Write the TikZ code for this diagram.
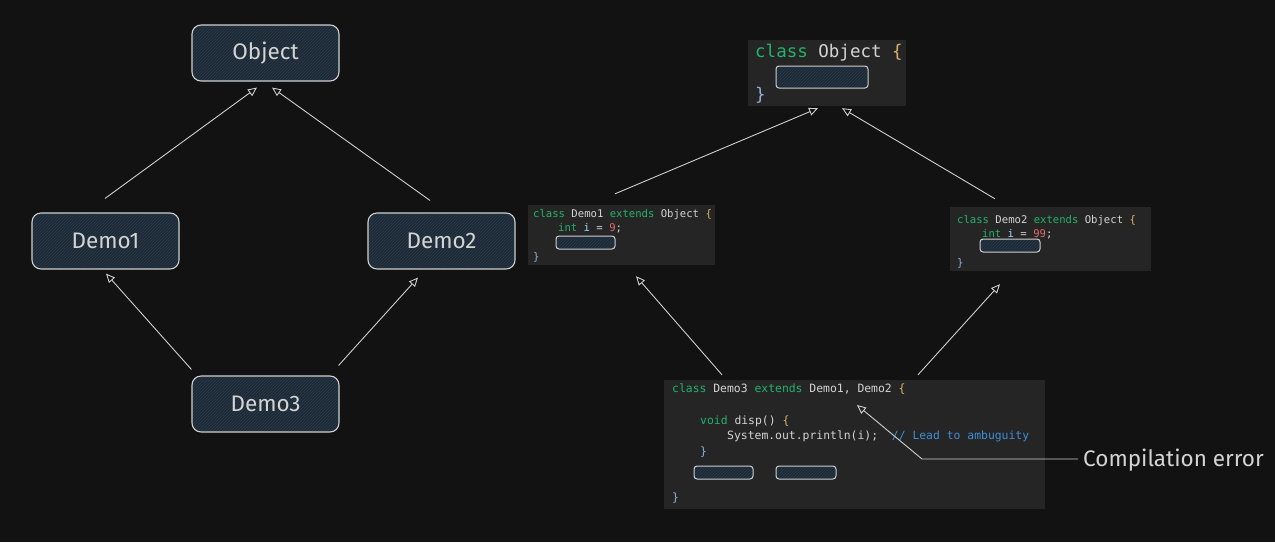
\documentclass[tikz,border=0pt]{standalone}
\usepackage{fontspec}
\setmainfont{Fira Sans}
\setmonofont{DejaVu Sans Mono}
\usetikzlibrary{arrows.meta,patterns,calc}
\definecolor{bg}{HTML}{121212}
\definecolor{codebg}{HTML}{252525}
\definecolor{nodefill}{HTML}{1D2A36}
\definecolor{hatch}{HTML}{2A3C4C}
\definecolor{edge}{HTML}{CFCFCF}
\definecolor{kw}{HTML}{23B26D}
\definecolor{idc}{HTML}{D4D4D4}
\definecolor{brO}{HTML}{D9B36C}
\definecolor{brC}{HTML}{8FB0D8}
\definecolor{varc}{HTML}{9CDCFE}
\definecolor{numc}{HTML}{E06C6C}
\definecolor{cmt}{HTML}{3D8FD9}
\newcommand{\kwd}[1]{\textcolor{kw}{#1}}
\newcommand{\ob}{\textcolor{brO}{\{}}
\newcommand{\cb}{\textcolor{brC}{\}}}
\begin{document}
\begin{tikzpicture}[x=1pt,y=-1pt,
  nbox/.style={draw=edge, line width=1.1pt, rounded corners=9pt,
    preaction={fill=nodefill}, pattern=north east lines, pattern color=hatch,
    minimum width=147pt, minimum height=56pt, inner sep=0pt,
    text=idc, font=\fontsize{22.5}{26}\selectfont},
  cbox/.style={fill=codebg, draw=none, inner sep=0pt},
  ibox/.style={draw=edge, line width=1pt, rounded corners=3pt,
    preaction={fill=nodefill}, pattern=north east lines, pattern color=hatch, inner sep=0pt},
  code/.style={anchor=west, inner sep=0pt, text=idc, text height=1em, text depth=0pt},
  cA/.style={code, font=\ttfamily\fontsize{10.6}{12}\selectfont},
  cB/.style={code, font=\ttfamily\fontsize{11.4}{13}\selectfont},
  cL/.style={code, font=\ttfamily\fontsize{17.5}{20}\selectfont},
  arr/.style={draw=edge, line width=0.9pt, -{Triangle[open, length=9pt, width=8pt]}}
]
\fill[bg] (0,0) rectangle (1275,542);
\useasboundingbox (0,0) rectangle (1275,542);

% left hierarchy
\node[nbox] (obj) at (265.5,53) {Object};
\node[nbox] (d1) at (105.5,241) {Demo1};
\node[nbox] (d2) at (441.5,241) {Demo2};
\node[nbox] (d3) at (265.5,404) {Demo3};

\draw[arr] ($(d1.north)+(-0.5,-14)$) -- ($(obj.south)+(-8.5,6)$);
\draw[arr] ($(d2.north)+(-11.5,-12)$) -- ($(obj.south)+(6.5,6)$);
\draw[arr] ($(d3.north west)+(0,-6)$) -- ($(d1.south)+(0.5,4)$);
\draw[arr] ($(d3.north east)+(-1,-10)$) -- ($(d2.south)+(-23.5,8)$);

% right code boxes
\node[cbox, minimum width=158pt, minimum height=66pt] (cobj) at (827,73) {};
\node[cL] (cobjA) at (755,52) {\kwd{class} Object \ob};
\node[ibox, minimum width=92pt, minimum height=22pt] (cobjR) at (822,77) {};
\node[cL] (cobjB) at (755,95) {\cb};

\node[cbox, minimum width=187pt, minimum height=60pt] (cd1) at (621.5,235) {};
\node[cA] (cd1A) at (533,212) {\kwd{class} Demo1 \kwd{extends} Object \ob};
\node[cA] (cd1B) at (558,226) {\kwd{int} \textcolor{varc}{i} = \textcolor{numc}{9};};
\node[ibox, minimum width=59pt, minimum height=13pt] (cd1R) at (585.5,242.5) {};
\node[cA] (cd1C) at (533,255) {\cb};

\node[cbox, minimum width=201pt, minimum height=64pt] (cd2) at (1050.5,239) {};
\node[cA] (cd2A) at (957,218) {\kwd{class} Demo2 \kwd{extends} Object \ob};
\node[cA] (cd2B) at (982,232) {\kwd{int} \textcolor{varc}{i} = \textcolor{numc}{99};};
\node[ibox, minimum width=60pt, minimum height=13pt] (cd2R) at (1010,245.5) {};
\node[cA] (cd2C) at (957,261) {\cb};

\node[cbox, minimum width=381pt, minimum height=129pt] (cd3) at (854.5,444.5) {};
\node[cB] (cd3A) at (672,387) {\kwd{class} Demo3 \kwd{extends} Demo1, Demo2 \ob};
\node[cB] (cd3B) at (700,419) {\kwd{void} disp() \ob};
\node[cB] (cd3C) at (727,434) {System.out.println(i);\ \ \textcolor{cmt}{// Lead to ambuguity}};
\node[cB] (cd3D) at (700,450) {\cb};
\node[ibox, minimum width=59pt, minimum height=13pt] (cd3R1) at (723.5,472.5) {};
\node[ibox, minimum width=60pt, minimum height=13pt] (cd3R2) at (806,472.5) {};
\node[cB] (cd3E) at (672,496) {\cb};

\draw[arr] ($(cd1.north)+(-6.5,-11)$) -- ($(cobj.south)+(-9,2)$);
\draw[arr] ($(cd2.north)+(-55.5,-8)$) -- ($(cobj.south)+(15,2)$);
\draw[arr] ($(cd3.north)+(-132.5,-5)$) -- ($(cd1.south)+(14.5,11)$);
\draw[arr] ($(cd3.north)+(63.5,-5)$) -- ($(cd2.south)+(-50.5,13)$);

% compilation error
\node[anchor=west, inner sep=0pt, text=idc, font=\fontsize{22.5}{26}\selectfont] (ce) at (1083,460) {Compilation error};
\coordinate (ceBend) at (922,459);
\coordinate (ceTip) at (857,405);
\draw[arr] ($(ce.west)+(-5,-1)$) -- (ceBend) -- (ceTip);
\end{tikzpicture}
\end{document}
